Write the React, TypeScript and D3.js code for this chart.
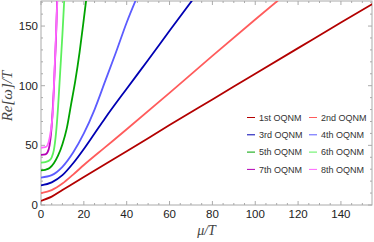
import { useEffect, useRef } from "react";
import * as d3 from "d3";

// mode labels, in plotting order
const modeLabels = [
  "1st OQNM",
  "2nd OQNM",
  "3rd OQNM",
  "4th OQNM",
  "5th OQNM",
  "6th OQNM",
  "7th OQNM",
  "8th OQNM",
];

// mu/T samples and Re[w]/T values, one pair per mode
const mu1 = [0, 5, 10, 20, 40, 60, 80, 100, 120, 140, 158];
const re1 = [3.5, 7, 12.5, 23.5, 45, 67, 88.5, 110, 131.5, 153, 172];
const mu2 = [0, 5, 10, 15, 20, 30, 40, 60, 80, 100, 115];
const re2 = [10, 12.5, 18, 25.5, 33.5, 48.5, 63.5, 94, 125, 155.5, 178];
const mu3 = [0, 5, 10, 15, 20, 25, 30, 40, 50, 60, 72];
const re3 = [16.5, 19, 25, 35, 47, 60, 73, 97.5, 121.5, 146, 175];
const mu4 = [0, 5, 10, 15, 20, 25, 30, 35, 40, 45];
const re4 = [23, 25, 32, 44, 60, 80, 104, 128, 153, 175];
const mu5 = [0, 2, 4, 6, 8, 10, 12, 14, 16, 18, 20, 21.5];
const re5 = [29, 29.5, 31, 35, 41.5, 51, 64, 84, 104, 128, 156, 178];
const mu6 = [0, 2, 4, 5, 6, 7, 8, 9, 10, 11];
const re6 = [35.5, 36, 37.5, 40, 46, 60, 83, 113, 143, 177];
const mu7 = [0, 2, 3, 4, 4.8, 5.4, 6, 7, 7.6];
const re7 = [42, 42.5, 44, 50, 62, 78, 97, 140, 175];
const mu8 = [0, 2, 3, 4, 5, 5.6, 6, 6.6, 7, 7.7];
const re8 = [48, 48.5, 50, 56, 68, 80, 98, 125, 143, 175];

const xTicks = [0, 20, 40, 60, 80, 100, 120, 140];
const yTicks = [0, 50, 100, 150];

const colors = [
  "#b30000",
  "#ff5c5c",
  "#0000b3",
  "#5c5cff",
  "#00a300",
  "#5cf05c",
  "#b300b3",
  "#ff66ff",
];

export default function App() {
  const ref = useRef<HTMLDivElement>(null);

  useEffect(() => {
    document.body.style.margin = "0";
    d3.select(ref.current).selectAll("*").remove();

    const W = 374;
    const H = 242;
    const margin = { top: 1, right: 2, bottom: 37, left: 41 };
    const width = W - margin.left - margin.right;
    const height = H - margin.top - margin.bottom;

    const svg = d3
      .select(ref.current)
      .append("svg")
      .attr("width", W)
      .attr("height", H)
      .style("display", "block");

    const g = svg
      .append("g")
      .attr("transform", "translate(" + margin.left + "," + margin.top + ")");

    const x = d3.scaleLinear().domain([0, 154.5]).range([0, width]);
    const y = d3.scaleLinear().domain([0, 171]).range([height, 0]);

    svg
      .append("defs")
      .append("clipPath")
      .attr("id", "plot-clip")
      .append("rect")
      .attr("width", width)
      .attr("height", height);

    // frame ticks (inside), all four sides
    const frameColor = "#aaaaaa";
    const xMinor = d3.range(0, 155, 5);
    const yMinor = d3.range(0, 172, 10);
    const tickLen = (major: boolean) => (major ? 4 : 2);

    xMinor.forEach((t) => {
      const major = t % 20 === 0;
      g.append("line")
        .attr("x1", x(t))
        .attr("x2", x(t))
        .attr("y1", height)
        .attr("y2", height - tickLen(major))
        .attr("stroke", frameColor);
      g.append("line")
        .attr("x1", x(t))
        .attr("x2", x(t))
        .attr("y1", 0)
        .attr("y2", tickLen(major))
        .attr("stroke", frameColor);
    });
    yMinor.forEach((t) => {
      const major = t % 50 === 0;
      g.append("line")
        .attr("x1", 0)
        .attr("x2", tickLen(major))
        .attr("y1", y(t))
        .attr("y2", y(t))
        .attr("stroke", frameColor);
      g.append("line")
        .attr("x1", width)
        .attr("x2", width - tickLen(major))
        .attr("y1", y(t))
        .attr("y2", y(t))
        .attr("stroke", frameColor);
    });

    g.append("rect")
      .attr("width", width)
      .attr("height", height)
      .attr("fill", "none")
      .attr("stroke", frameColor);

    // tick labels
    g.selectAll(".xlab")
      .data(xTicks)
      .enter()
      .append("text")
      .attr("x", (d) => x(d))
      .attr("y", height + 13)
      .attr("text-anchor", "middle")
      .style("font-family", "'Liberation Sans', Arial, sans-serif")
      .style("font-size", "11.5px")
      .attr("fill", "#222")
      .text((d) => d);

    g.selectAll(".ylab")
      .data(yTicks)
      .enter()
      .append("text")
      .attr("x", -3)
      .attr("y", (d) => y(d) + 4)
      .attr("text-anchor", "end")
      .style("font-family", "'Liberation Sans', Arial, sans-serif")
      .style("font-size", "11.5px")
      .attr("fill", "#222")
      .text((d) => d);

    // axis labels
    svg
      .append("text")
      .attr("x", margin.left + width / 2)
      .attr("y", 235)
      .attr("text-anchor", "middle")
      .style("font-family", "'Liberation Serif', 'Times New Roman', serif")
      .style("font-style", "italic")
      .style("font-size", "14px")
      .attr("fill", "#444")
      .text("\u03bc/T");

    svg
      .append("text")
      .attr("transform", "translate(12,96) rotate(-90)")
      .attr("text-anchor", "middle")
      .style("font-family", "'Liberation Serif', 'Times New Roman', serif")
      .style("font-style", "italic")
      .style("font-size", "15px")
      .attr("fill", "#444")
      .text("Re[\u03c9]/T");

    // curves
    const modes = [
      [mu1, re1],
      [mu2, re2],
      [mu3, re3],
      [mu4, re4],
      [mu5, re5],
      [mu6, re6],
      [mu7, re7],
      [mu8, re8],
    ].map(([m, r], i) => ({
      label: modeLabels[i],
      color: colors[i],
      points: m.map((v, j) => ({ x: v, y: r[j] })),
    }));

    const line = d3
      .line<{ x: number; y: number }>()
      .x((d) => x(d.x))
      .y((d) => y(d.y))
      .curve(d3.curveMonotoneX);

    const curves = g.append("g").attr("clip-path", "url(#plot-clip)");
    modes.forEach((m) => {
      curves
        .append("path")
        .datum(m.points)
        .attr("fill", "none")
        .attr("stroke", m.color)
        .attr("stroke-width", 1.8)
        .attr("d", line);
    });

    // legend, two columns
    const legend = svg.append("g");
    modes.forEach((m, i) => {
      const col = i % 2;
      const row = Math.floor(i / 2);
      const lx = 247 + col * 62;
      const ly = 117.5 + row * 17.3;
      legend
        .append("line")
        .attr("x1", lx)
        .attr("x2", lx + 8)
        .attr("y1", ly)
        .attr("y2", ly)
        .attr("stroke", m.color)
        .attr("stroke-width", 1);
      legend
        .append("text")
        .attr("x", lx + 12)
        .attr("y", ly + 3.3)
        .style("font-family", "'Liberation Sans', Arial, sans-serif")
        .style("font-size", "9px")
        .attr("fill", "#333")
        .text(m.label);
    });
  }, []);

  return <div ref={ref}></div>;
}
